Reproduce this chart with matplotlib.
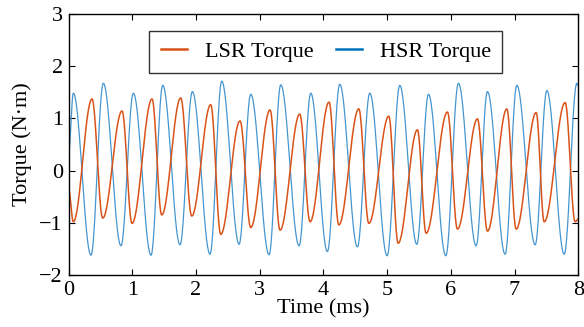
#!/usr/bin/env python3
# torque waveforms of the low / high speed rotor

import numpy as np
import matplotlib
matplotlib.use("Agg")
import matplotlib.pyplot as plt
from matplotlib.lines import Line2D

# extrema (time in ms, torque in N*m)
lsr_t = [0.0, 0.076, 0.369, 0.537, 0.840, 0.997, 1.311, 1.463, 1.761, 1.934,
         2.232, 2.389, 2.692, 2.860, 3.163, 3.320, 3.629, 3.791, 4.089, 4.242,
         4.556, 4.713, 5.027, 5.173, 5.476, 5.612, 5.947, 6.104, 6.418, 6.575,
         6.879, 7.025, 7.339, 7.465, 7.794, 7.951, 8.0]
lsr_v = [-0.35, -0.98, 1.37, -0.91, 1.14, -1.01, 1.37, -0.85, 1.39, -0.87,
         1.26, -1.22, 0.95, -1.09, 1.16, -1.14, 1.08, -0.98, 1.31, -1.04,
         1.18, -1.01, 1.04, -1.39, 0.78, -1.20, 1.12, -1.12, 0.99, -1.16,
         1.18, -1.12, 1.11, -0.98, 1.30, -0.98, -0.93]

hsr_t = [0.0, 0.076, 0.353, 0.547, 0.824, 1.018, 1.295, 1.479, 1.750, 1.944,
         2.221, 2.405, 2.677, 2.860, 3.148, 3.331, 3.619, 3.802, 4.063, 4.257,
         4.534, 4.728, 5.000, 5.199, 5.466, 5.649, 5.921, 6.119, 6.397, 6.575,
         6.852, 7.036, 7.323, 7.507, 7.779, 7.978, 8.0]
hsr_v = [0.30, 1.48, -1.62, 1.67, -1.44, 1.48, -1.62, 1.63, -1.42, 1.51,
         -1.60, 1.71, -1.41, 1.46, -1.61, 1.64, -1.44, 1.48, -1.55, 1.65,
         -1.46, 1.48, -1.63, 1.63, -1.41, 1.46, -1.63, 1.67, -1.44, 1.51,
         -1.60, 1.63, -1.42, 1.53, -1.60, 1.67, 1.62]

x_ticks = [0, 1, 2, 3, 4, 5, 6, 7, 8]
y_ticks = [-2, -1, 0, 1, 2, 3]

LSR_COLOR = "#D95319"
HSR_COLOR = "#4596d0"
HSR_LEGEND = "#0072BD"


def smooth_through(knots_t, knots_v, n=40):
    # half-cosine segment between each pair of extrema
    ts, vs = [], []
    for i in range(len(knots_t) - 1):
        s = np.linspace(0, 1, n, endpoint=False)
        a, b = knots_v[i], knots_v[i + 1]
        ts.append(knots_t[i] + s * (knots_t[i + 1] - knots_t[i]))
        vs.append(a + (b - a) * (1 - np.cos(np.pi * s)) / 2)
    ts.append([knots_t[-1]])
    vs.append([knots_v[-1]])
    return np.concatenate(ts), np.concatenate(vs)


plt.rcParams['font.family'] = ['Liberation Serif', 'DejaVu Serif']

fig = plt.figure(figsize=(5.84, 3.27), dpi=100)
ax = fig.add_axes([0.1173, 0.1587, 0.8729, 0.7993])

t, v = smooth_through(hsr_t, hsr_v)
ax.plot(t, v, color=HSR_COLOR, lw=0.9)
t, v = smooth_through(lsr_t, lsr_v)
ax.plot(t, v, color=LSR_COLOR, lw=1.1)

ax.set_xlim(0, 8)
ax.set_ylim(-2, 3)
ax.set_xticks(x_ticks)
ax.set_yticks(y_ticks)
ax.tick_params(direction='in', top=True, right=True, length=4, width=0.8,
               labelsize=16, pad=4)
for sp in ax.spines.values():
    sp.set_linewidth(1.0)

ax.set_xlabel("Time (ms)", fontsize=16, labelpad=0)
ax.set_ylabel("Torque (N·m)", fontsize=16, labelpad=5)

handles = [Line2D([], [], color=LSR_COLOR, lw=1.8),
           Line2D([], [], color=HSR_LEGEND, lw=1.8)]
leg = ax.legend(handles, ["LSR Torque", "HSR Torque"], ncol=2,
                loc='center', bbox_to_anchor=(0.505, 0.854),
                fontsize=16, frameon=True, fancybox=False,
                edgecolor='black', handlelength=1.2, handletextpad=0.8,
                columnspacing=1.0, borderpad=0.5)
leg.get_frame().set_linewidth(1.0)

fig.savefig("out.png", dpi=100)
